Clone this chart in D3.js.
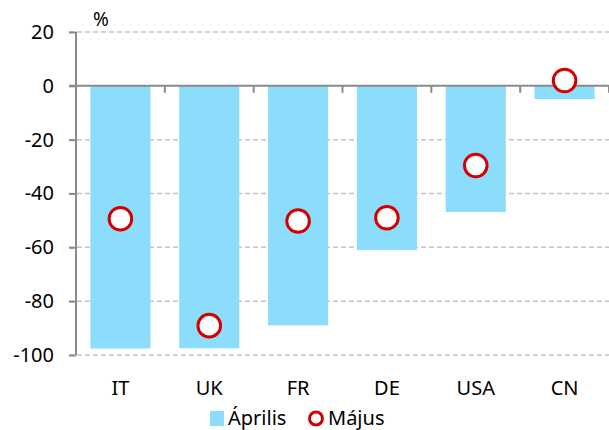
<!DOCTYPE html>
<html>
<head>
<meta charset="utf-8">
<script src="https://cdn.jsdelivr.net/npm/d3@7/dist/d3.min.js"></script>
<style>
    body { margin: 0; background: #fff; }
    svg { display: block; font-family: "Noto Sans", sans-serif; }
    .grid line { stroke: #c3c3c3; stroke-width: 1.5px; stroke-dasharray: 5 3; }
</style>
</head>
<body>
<svg id="chart"></svg>
<script>
    const countries = ['IT', 'UK', 'FR', 'DE', 'USA', 'CN'];
    const april = [-97.6, -97.5, -89, -61, -46.9, -4.9];
    const may = [-49.4, -89.1, -50.2, -49, -29.6, 2];
    const yTicks = [20, 0, -20, -40, -60, -80, -100];
    const seriesNames = ['Április', 'Május'];

    const width = 609, height = 430;
    const plot = {left: 76, right: 609, top: 32, bottom: 355};

    const svg = d3.select('#chart')
        .attr('width', width)
        .attr('height', height);

    const x = d3.scaleBand()
        .domain(countries)
        .range([plot.left, plot.right])
        .paddingInner(0.324)
        .paddingOuter(0.162);

    const y = d3.scaleLinear()
        .domain([-100, 20])
        .range([plot.bottom, plot.top]);

    // dashed gridlines
    svg.append('g')
        .attr('class', 'grid')
        .selectAll('line')
        .data(yTicks.filter(d => d !== 0))
        .join('line')
        .attr('x1', plot.left - 7)
        .attr('x2', plot.right)
        .attr('y1', d => y(d))
        .attr('y2', d => y(d));

    // bars
    svg.append('g')
        .selectAll('rect')
        .data(countries)
        .join('rect')
        .attr('x', d => x(d))
        .attr('width', x.bandwidth())
        .attr('y', y(0))
        .attr('height', (d, i) => y(april[i]) - y(0))
        .attr('fill', '#8cdcfc');

    // zero line + category ticks
    svg.append('line')
        .attr('x1', plot.left - 7).attr('x2', plot.right)
        .attr('y1', y(0)).attr('y2', y(0))
        .attr('stroke', '#8a8a8a').attr('stroke-width', 2);

    svg.append('g')
        .selectAll('line')
        .data(countries)
        .join('line')
        .attr('x1', d => x(d) + x.bandwidth() + x.step() * x.paddingInner() / 2)
        .attr('x2', d => x(d) + x.bandwidth() + x.step() * x.paddingInner() / 2)
        .attr('y1', y(0))
        .attr('y2', y(0) + 7)
        .attr('stroke', '#8a8a8a').attr('stroke-width', 2);

    // y axis
    const yAxis = d3.axisLeft(y)
        .tickValues(yTicks)
        .tickFormat(d => String(d))
        .tickSize(7)
        .tickPadding(15);

    const gY = svg.append('g')
        .attr('transform', 'translate(' + plot.left + ',0)')
        .call(yAxis);
    gY.select('.domain')
        .attr('d', 'M0,' + plot.top + 'V' + plot.bottom)
        .attr('stroke', '#8a8a8a').attr('stroke-width', 2);
    gY.selectAll('.tick line').attr('stroke', '#8a8a8a').attr('stroke-width', 2);
    gY.selectAll('.tick text')
        .attr('font-size', 20)
        .attr('font-family', '"Noto Sans", sans-serif')
        .attr('fill', '#000');

    // category labels
    svg.append('g')
        .selectAll('text')
        .data(countries)
        .join('text')
        .attr('x', d => x(d) + x.bandwidth() / 2)
        .attr('y', 395)
        .attr('text-anchor', 'middle')
        .attr('font-size', 20)
        .text(d => d);

    // unit
    svg.append('text')
        .attr('x', 93).attr('y', 26)
        .attr('font-size', 19)
        .text('%');

    // may markers
    svg.append('g')
        .selectAll('circle')
        .data(countries)
        .join('circle')
        .attr('cx', d => x(d) + x.bandwidth() / 2)
        .attr('cy', (d, i) => y(may[i]))
        .attr('r', 11.3)
        .attr('fill', '#fff')
        .attr('stroke', '#d40000')
        .attr('stroke-width', 3);

    // legend
    const lg = svg.append('g');
    lg.append('rect')
        .attr('x', 210).attr('y', 411)
        .attr('width', 14).attr('height', 15)
        .attr('fill', '#8cdcfc');
    lg.append('text')
        .attr('x', 228).attr('y', 425)
        .attr('font-size', 20)
        .text(seriesNames[0]);
    lg.append('circle')
        .attr('cx', 316).attr('cy', 418.5)
        .attr('r', 6.5)
        .attr('fill', '#fff')
        .attr('stroke', '#d40000')
        .attr('stroke-width', 3);
    lg.append('text')
        .attr('x', 328).attr('y', 425)
        .attr('font-size', 20)
        .text(seriesNames[1]);
</script>
</body>
</html>
